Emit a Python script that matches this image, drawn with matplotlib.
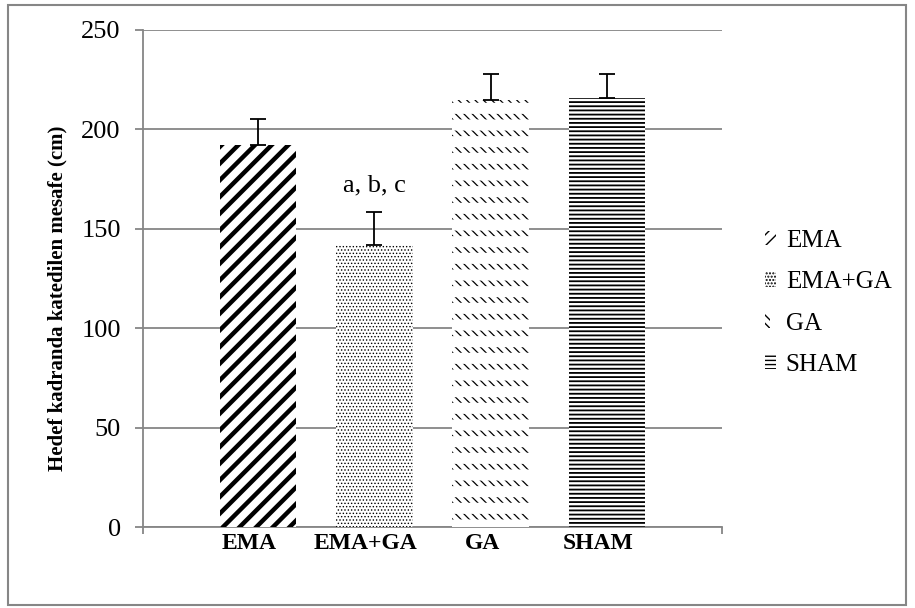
import matplotlib
matplotlib.use("Agg")
import matplotlib.pyplot as plt
from matplotlib.patches import Rectangle, Patch
from matplotlib.legend_handler import HandlerTuple
import matplotlib.transforms as mtransforms
import numpy as np

categories = ["EMA", "EMA+GA", "GA", "SHAM"]
means = [192, 142, 215, 216]
errors = [13, 16.5, 13, 12]
annot_text = "a, b, c"
annot_value = 172
yticks = [0, 50, 100, 150, 200, 250]
ylabel = "Hedef kadranda katedilen mesafe (cm)"

plt.rcParams['font.family'] = ['Liberation Serif', 'DejaVu Serif']
plt.rcParams['hatch.color'] = 'black'

fig = plt.figure(figsize=(9.15, 6.08), dpi=100)
fig.patches.append(Rectangle((8/915, 3/608), 898/915, 600/608, transform=fig.transFigure,
                             fill=False, edgecolor='#868686', linewidth=1.5))
ax = fig.add_axes([143/915, 1-527/608, (722-143)/915, (527-30)/608])

x = np.arange(len(categories))
hatches = ['//', '.....', '\\\\\\\\', '----']
hlw = [3.2, 0.6, 0.9, 1.3]
band_lw = 8.0


def make_patch_style(p, i, legend=False):
    p.set_hatch(hatches[i] if not (legend and i == 0) else '///')
    lw = hlw[i] if not (legend and i == 0) else 2.2
    try:
        p.set_hatch_linewidth(lw)
    except Exception:
        pass


for i in range(len(categories)):
    with plt.rc_context({'hatch.linewidth': hlw[i]}):
        b = ax.bar(x[i], means[i], width=0.66, color='white', edgecolor='black',
                   linewidth=0, zorder=3)
        for p in b:
            make_patch_style(p, i)
    if categories[i] == "GA":
        # white horizontal bands to break the diagonal hatch into short dash rows
        with plt.rc_context({'hatch.linewidth': band_lw}):
            b2 = ax.bar(x[i], means[i], width=0.66, color='none', edgecolor='white',
                        hatch='-', linewidth=0, zorder=3.5)
            for p in b2:
                try:
                    p.set_hatch_linewidth(band_lw)
                except Exception:
                    pass

ax.errorbar(x, means, yerr=[np.zeros(len(errors)), errors], fmt='none',
            ecolor='black', elinewidth=1.3, capsize=6, capthick=1.3, zorder=4)

ax.text(x[1], annot_value, annot_text, ha='center', va='center', fontsize=19)

ax.set_xlim(-0.99, 3.99)
ax.set_ylim(0, 250)
ax.set_yticks(yticks)
ax.set_yticklabels([str(t) for t in yticks], fontsize=19)
ax.set_xticks(x)
ax.set_xticklabels(categories, fontsize=17, fontweight='bold')
ax.tick_params(axis='x', length=0, pad=4)
ax.set_xticks([-0.99, 3.99], minor=True)
ax.tick_params(axis='x', which='minor', length=5, color='#868686', width=1.3, direction='out')
ax.tick_params(axis='y', length=6, color='#868686', width=1.3, direction='out', pad=10)
offset = mtransforms.ScaledTranslation(-8.5/100, 0, fig.dpi_scale_trans)
for tick in ax.xaxis.get_major_ticks():
    tick.label1.set_transform(tick.label1.get_transform() + offset)
ax.yaxis.grid(True, color='#868686', linewidth=1.3, zorder=0)
ax.set_axisbelow(True)
for s in ['top', 'right']:
    ax.spines[s].set_visible(False)
for s in ['left', 'bottom']:
    ax.spines[s].set_color('#868686')
    ax.spines[s].set_linewidth(1.3)
ax.set_ylabel(ylabel, fontsize=15, fontweight='bold')
ax.yaxis.set_label_coords(-0.13, 0.46)

handles = []
for i in range(len(categories)):
    with plt.rc_context({'hatch.linewidth': hlw[i]}):
        h = Patch(facecolor='white', edgecolor='black', linewidth=0)
        make_patch_style(h, i, legend=True)
    if categories[i] == "GA":
        with plt.rc_context({'hatch.linewidth': band_lw}):
            h2 = Patch(facecolor='none', edgecolor='white', hatch='-', linewidth=0)
            try:
                h2.set_hatch_linewidth(band_lw)
            except Exception:
                pass
        h = (h, h2)
    handles.append(h)
fig.legend(handles, categories, loc='center left', bbox_to_anchor=(742/915, 1-303/608),
           frameon=False, fontsize=18, handlelength=0.45, handleheight=0.5,
           handletextpad=0.4, labelspacing=0.77,
           handler_map={tuple: HandlerTuple(ndivide=None, pad=0)})

fig.savefig("out.png", dpi=100)
